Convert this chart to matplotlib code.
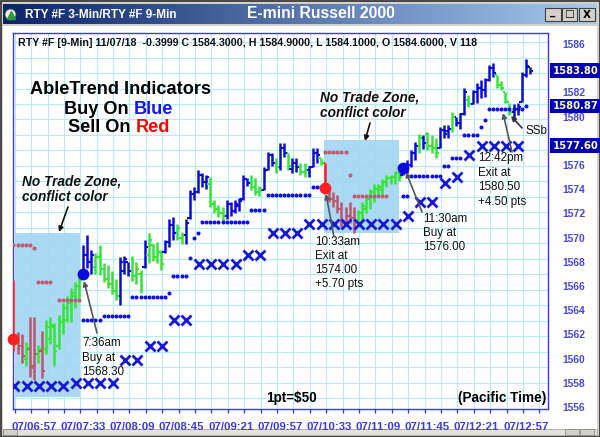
import numpy as np
import matplotlib
matplotlib.use("Agg")
import matplotlib.pyplot as plt
from matplotlib.patches import Rectangle, Circle
from matplotlib.colors import LinearSegmentedColormap
from matplotlib.transforms import blended_transform_factory

plt.rcParams['font.family'] = ['Liberation Sans', 'DejaVu Sans']

# ---------------- data ----------------
time_labels = ['07/06:57', '07/07:33', '07/08:09', '07/08:45', '07/09:21', '07/09:57',
               '07/10:33', '07/11:09', '07/11:45', '07/12:21', '07/12:57']
label_bar = [5, 17, 29, 41, 53, 65, 77, 89, 101, 113, 125]

bar_high = [1566.5, 1562.2, 1562.0, 1561.4, 1563.4, 1563.4, 1561.1, 1562.3, 1563.2, 1563.4,
            1562.9, 1563.6, 1564.6, 1565.2, 1565.8, 1566.3, 1566.8, 1569.4, 1570.2, 1569.0,
            1568.7, 1569.4, 1567.9, 1567.7, 1567.2, 1566.6, 1568.4, 1568.5, 1568.0, 1568.5,
            1568.0, 1567.3, 1569.8, 1570.4, 1569.5, 1569.6, 1569.0, 1569.8, 1571.5, 1571.7,
            1571.1, 1570.5, 1571.5, 1573.9, 1574.2, 1575.6, 1575.3, 1575.2, 1575.0, 1573.1,
            1572.7, 1572.5, 1573.1, 1572.9, 1573.1, 1573.3, 1575.2, 1574.9, 1575.2, 1574.9,
            1574.3, 1575.8, 1577.1, 1577.0, 1576.6, 1577.8, 1577.8, 1577.0, 1576.6, 1576.6,
            1576.2, 1576.2, 1575.9, 1577.4, 1577.4, 1576.6, 1576.2, 1574.3, 1573.8, 1573.5,
            1572.9, 1572.5, 1572.9, 1572.5, 1572.3, 1572.9, 1573.4, 1574.0, 1574.4, 1574.4,
            1574.8, 1575.2, 1575.2, 1575.5, 1575.4, 1576.2, 1576.4, 1577.2, 1577.9, 1578.6,
            1578.5, 1578.7, 1578.5, 1578.2, 1579.1, 1579.3, 1579.3, 1580.4, 1580.0, 1580.3,
            1582.4, 1581.8, 1582.2, 1582.8, 1583.0, 1583.2, 1584.3, 1584.4, 1583.4, 1582.9,
            1582.0, 1581.1, 1581.0, 1581.1, 1583.7, 1584.8, 1584.1]
bar_low = [1560.6, 1560.4, 1559.6, 1559.4, 1558.5, 1558.2, 1559.6, 1558.4, 1560.4, 1561.2,
           1559.4, 1560.8, 1562.0, 1563.0, 1563.0, 1564.2, 1565.0, 1566.9, 1567.5, 1567.0,
           1567.0, 1566.9, 1566.3, 1565.8, 1565.3, 1564.8, 1564.4, 1567.0, 1566.8, 1566.4,
           1566.2, 1565.4, 1567.5, 1567.9, 1568.1, 1567.9, 1567.3, 1568.7, 1569.2, 1569.8,
           1569.8, 1569.5, 1569.5, 1571.5, 1573.1, 1573.7, 1574.2, 1574.0, 1572.5, 1572.0,
           1571.7, 1571.4, 1571.5, 1571.8, 1572.0, 1572.2, 1573.1, 1574.3, 1573.9, 1573.5,
           1573.4, 1573.9, 1575.6, 1575.9, 1575.3, 1575.6, 1576.7, 1575.6, 1575.3, 1575.4,
           1575.2, 1575.0, 1575.0, 1575.8, 1576.2, 1576.0, 1573.8, 1572.9, 1572.5, 1572.0,
           1570.9, 1571.0, 1571.2, 1570.4, 1571.3, 1571.4, 1572.0, 1572.4, 1572.9, 1573.5,
           1573.4, 1574.2, 1574.4, 1574.4, 1574.7, 1575.2, 1575.3, 1575.8, 1576.4, 1577.0,
           1577.3, 1577.2, 1577.0, 1576.6, 1577.4, 1578.2, 1578.2, 1578.7, 1579.2, 1579.0,
           1580.1, 1580.8, 1581.0, 1581.1, 1581.5, 1581.6, 1582.9, 1583.3, 1582.4, 1582.2,
           1581.1, 1580.1, 1579.9, 1580.1, 1581.2, 1583.3, 1583.5]
bar_open = [1563.0, 1561.8, 1561.0, 1560.0, 1560.8, 1559.4, 1560.4, 1560.6, 1560.8, 1561.6,
            1562.6, 1561.0, 1563.0, 1563.2, 1564.6, 1565.2, 1566.0, 1567.0, 1568.6, 1568.0,
            1567.6, 1568.4, 1567.4, 1566.6, 1566.2, 1565.6, 1565.2, 1567.2, 1568.0, 1567.2,
            1566.8, 1567.0, 1567.6, 1568.6, 1569.4, 1568.4, 1568.8, 1568.8, 1569.6, 1571.0,
            1570.4, 1570.0, 1570.2, 1571.6, 1573.6, 1573.8, 1575.2, 1574.6, 1574.4, 1572.8,
            1572.4, 1572.0, 1571.8, 1572.8, 1572.2, 1572.6, 1573.2, 1574.8, 1574.5, 1574.2,
            1573.8, 1573.9, 1575.6, 1576.8, 1576.2, 1575.8, 1577.4, 1577.0, 1575.7, 1576.2,
            1575.8, 1575.4, 1575.6, 1575.8, 1577.0, 1576.6, 1576.2, 1574.0, 1573.2, 1573.0,
            1572.4, 1571.2, 1571.8, 1571.6, 1571.4, 1572.0, 1572.4, 1573.2, 1573.8, 1574.0,
            1573.9, 1574.6, 1574.9, 1575.0, 1575.3, 1575.2, 1575.8, 1576.0, 1577.0, 1577.6,
            1578.2, 1578.6, 1577.6, 1577.4, 1577.4, 1578.9, 1578.8, 1579.0, 1580.0, 1579.5,
            1580.2, 1581.4, 1581.0, 1582.0, 1582.4, 1582.2, 1583.0, 1584.0, 1583.4, 1582.6,
            1582.0, 1581.2, 1580.4, 1580.6, 1581.2, 1583.4, 1584.1]
bar_close = [1561.6, 1560.8, 1560.2, 1560.9, 1559.2, 1560.4, 1560.8, 1559.0, 1562.6, 1562.8,
             1560.6, 1563.2, 1564.2, 1564.8, 1565.4, 1566.0, 1566.5, 1568.6, 1568.0, 1568.6,
             1568.4, 1567.4, 1566.6, 1566.2, 1565.6, 1565.2, 1568.0, 1568.2, 1567.2, 1566.8,
             1567.4, 1566.0, 1569.2, 1569.8, 1568.4, 1568.8, 1567.8, 1569.6, 1571.0, 1570.4,
             1570.8, 1570.2, 1571.2, 1573.6, 1573.8, 1575.2, 1574.6, 1575.0, 1572.8, 1572.4,
             1572.0, 1571.8, 1572.8, 1572.2, 1572.8, 1573.0, 1574.8, 1574.5, 1574.2, 1573.8,
             1574.0, 1575.5, 1576.8, 1576.2, 1575.8, 1577.4, 1577.0, 1575.9, 1576.2, 1575.8,
             1575.4, 1575.6, 1575.8, 1577.0, 1576.8, 1576.2, 1574.1, 1573.2, 1573.0, 1572.4,
             1571.2, 1571.8, 1571.6, 1570.8, 1572.0, 1572.6, 1573.2, 1573.8, 1574.0, 1574.2,
             1574.6, 1574.9, 1575.0, 1575.3, 1575.0, 1575.8, 1576.0, 1577.0, 1577.6, 1578.2,
             1577.8, 1577.6, 1577.4, 1577.0, 1578.9, 1578.6, 1579.0, 1580.0, 1579.5, 1580.2,
             1582.0, 1581.0, 1582.0, 1582.4, 1582.2, 1583.0, 1584.0, 1583.6, 1582.6, 1582.4,
             1581.2, 1580.4, 1580.6, 1580.8, 1583.4, 1584.2, 1583.8]
# b = buy (blue), g = green, r = sell (red), m = conflict colour
bar_state = ("rmmgmmgm" "ggggggggg" "bbb" "gggggg" "bbb" "ggg" "b" "gggg" "bbb" "gg"
             "bbbbbb" "gggg" "bbbbbb" "ggg" "bbb" "g" "bb" "g" "bb" "gg" "bbb" "g"
             "r" "mmmmmmm" "ggggggggggg" "bbbb" "g" "b" "ggg" "bbb" "g" "bbb" "g"
             "bbbbbb" "gggg" "bbbbb")

stop_start = [0, 5, 6, 11, 17, 22, 29, 38, 39, 43, 44, 45, 46, 58, 62, 73,
              76, 82, 83, 95, 97, 105, 107, 110, 114, 115, 116, 125]
stop_end = [4, 5, 9, 16, 21, 28, 37, 38, 42, 43, 44, 45, 57, 61, 72, 75,
            81, 82, 91, 96, 104, 106, 109, 113, 114, 115, 124, 125]
stop_level = [1569.4, 1569.1, 1566.3, 1564.8, 1563.2, 1563.5, 1565.1, 1565.4, 1566.8, 1568.3,
              1570.0, 1570.4, 1571.3, 1572.3, 1573.5, 1574.2, 1577.1, 1575.2, 1573.4, 1573.4,
              1575.1, 1575.9, 1576.6, 1578.5, 1579.1, 1579.7, 1580.6, 1580.9]
stop_state = "mmmm" "bbbbbbbbbbbb" "mmm" "bbbbbbbbb"

xmark_level = [1557.7, 1557.7, 1557.7, 1557.7, 1557.7, 1557.95, 1557.95, 1557.95, 1557.95,
               1559.9, 1559.9, 1561.0, 1561.0, 1563.2, 1563.2, 1567.8, 1567.8, 1567.8, 1567.8,
               1568.6, 1568.6, 1570.4, 1570.4, 1570.4, 1571.1, 1571.1, 1571.1, 1571.1, 1571.1,
               1571.1, 1571.1, 1571.1, 1571.8, 1572.9, 1572.9, 1574.5, 1575.0, 1576.8,
               1577.55, 1577.55, 1577.55, 1577.55]

signal_bar = [0, 17, 76, 95]
signal_price = [1561.6, 1567.0, 1574.1, 1575.75]
signal_state = ['r', 'b', 'r', 'b']

zone_start = [0.4, 75.8]
zone_end = [16.2, 94.1]
zone_top = [1570.4, 1578.1]
zone_bottom = [1556.8, 1570.35]

price_boxes = [1583.80, 1580.87, 1577.60]
y_ticks = [v for v in range(1556, 1587, 2) if min(abs(v - b) for b in price_boxes) > 0.6]

# ---------------- figure ----------------
W, H, DPI = 600, 437, 100
fig = plt.figure(figsize=(W / DPI, H / DPI), dpi=DPI)
renderer = fig.canvas.get_renderer()


def fit(t, width):
    bb = t.get_window_extent(renderer=renderer)
    t.set_fontsize(t.get_fontsize() * width / bb.width)
    return t


# window chrome
bg = fig.add_axes([0, 0, 1, 1], zorder=0)
bg.axis('off')
bg.add_patch(Rectangle((0, 0), W, H, fc='#d4d0c8', ec='none'))
cmap = LinearSegmentedColormap.from_list('tb', ['#0a246a', '#a6caf0'])
bg.imshow(np.linspace(0, 1, 256)[None, :], cmap=cmap, extent=(3, 597, 24, 4),
          aspect='auto', zorder=1)
bg.add_patch(Rectangle((3, 26), 594, 403, fc='white', ec='none', zorder=1))
bg.add_patch(Rectangle((3, 429), 594, 6, fc='#e4e1da', ec='#a0a0a0', lw=0.5, zorder=1))
bg.add_patch(Rectangle((3, 429), 14, 6, fc='#d4d0c8', ec='#808080', lw=0.5, zorder=2))
bg.add_patch(Rectangle((565, 429), 14, 6, fc='#d4d0c8', ec='#808080', lw=0.5, zorder=2))
bg.add_patch(Rectangle((580, 429), 14, 6, fc='#d4d0c8', ec='#808080', lw=0.5, zorder=2))
bg.add_patch(Rectangle((0.5, 0.5), W - 1, H - 1, fc='none', ec='#303030', lw=1.2, zorder=3))
for bx in (545, 561.5, 579):
    bg.add_patch(Rectangle((bx, 7.5), 15.5, 13, fc='#d4d0c8', ec='#404040', lw=0.8, zorder=3))
bg.add_patch(Circle((10.5, 14.5), 5.5, fc='#e8efe8', ec='#3a5a3a', lw=0.6, zorder=3))
bg.plot([10.5], [15.2], marker='^', ms=5.5, color='#2f9a3a', zorder=4)
bg.set_xlim(0, W)
bg.set_ylim(H, 0)

# main chart
ax = fig.add_axes([12.5 / W, (H - 409) / H, (548 - 12.5) / W, (409 - 32.5) / H], zorder=1)
ax.set_facecolor('white')
n = len(bar_high)
x = np.arange(n)
col_map = {'b': '#0c0cd4', 'g': '#36e436', 'r': '#ff1c1c', 'm': '#bb566c'}
cols = [col_map[s] for s in bar_state]

ax.set_xlim(-0.24, 130.4)
ax.set_ylim(1555.83, 1586.95)

for gx in np.arange(0.3, 131, 4):
    ax.axvline(gx, color='#b4ecf5', lw=0.8, zorder=0.5)
for gy in np.arange(1556.72, 1587, 1.28):
    ax.axhline(gy, color='#b4ecf5', lw=0.8, zorder=0.5)

for zs, ze, zt, zb in zip(zone_start, zone_end, zone_top, zone_bottom):
    ax.add_patch(Rectangle((zs, zb), ze - zs, zt - zb, fc='#a2d6f2', ec='none',
                           alpha=0.92, zorder=1))

ax.vlines(x, bar_low, bar_high, colors=cols, lw=1.8, zorder=3)
ax.hlines(bar_open, x - 0.7, x, colors=cols, lw=1.5, zorder=3)
ax.hlines(bar_close, x, x + 0.7, colors=cols, lw=1.5, zorder=3)

dot_col = {'b': '#1010e0', 'm': '#c05a70'}
for s, e, lvl, st in zip(stop_start, stop_end, stop_level, stop_state):
    xs = np.arange(s, e + 1)
    ax.plot(xs, np.full(len(xs), lvl), 'o', ms=2.9, mec='none', color=dot_col[st], zorder=4)

xm = np.arange(len(xmark_level)) * 3 + 0.2
ax.plot(xm, xmark_level, 'x', ms=6.5, mew=2.0, color='#1818d4', ls='none', zorder=4)

for sb, sp, st in zip(signal_bar, signal_price, signal_state):
    ax.plot([sb], [sp], 'o', ms=8.5, mec='none',
            color='#ff2020' if st == 'r' else '#0a0ae0', zorder=5, clip_on=False)

ax.set_xticks(label_bar)
ax.set_xticklabels(time_labels)
ax.set_xticks(np.arange(0.3, 131, 4), minor=True)
ax.tick_params(axis='x', which='major', length=0, pad=9.5, labelcolor='#3c3cd8')
ax.tick_params(axis='x', which='minor', length=3, width=1, color='#3c3cd0', direction='out')
ax.yaxis.tick_right()
ax.set_yticks(y_ticks)
ax.set_yticklabels([str(v) for v in y_ticks])
ax.tick_params(axis='y', length=0, pad=10.5, labelcolor='#4646dc')
for lb in ax.get_xticklabels():
    lb.set_fontweight('bold')
    fit(lb, 45)
for lb in ax.get_yticklabels():
    lb.set_fontweight('bold')
    fit(lb, 23)
for sp in ax.spines.values():
    sp.set_color('#3c3cd0')
    sp.set_linewidth(1.0)

blend = blended_transform_factory(ax.transAxes, ax.transData)
for v in price_boxes:
    t = ax.text(1.0085, v, f"{v:.2f}", transform=blend, va='center', ha='left',
                family='DejaVu Sans', fontweight='bold', color='#ffffb0', clip_on=False,
                zorder=10, bbox=dict(boxstyle='square,pad=0.22', fc='#0000b0', ec='none'))
    fit(t, 46)

# overlay (pixel coordinates, y down)
ov = fig.add_axes([0, 0, 1, 1], zorder=3)
ov.set_xlim(0, W)
ov.set_ylim(H, 0)
ov.axis('off')
ov.patch.set_visible(False)

fit(ov.text(25, 14.5, 'RTY #F 3-Min/RTY #F 9-Min', color='white', fontweight='bold',
            va='center', ha='left'), 152)
fit(ov.text(320.5, 14, 'E-mini Russell 2000', color='white', fontweight='bold',
            va='center', ha='center'), 148)
for bx, g in ((552.8, '_'), (569.2, '\u25a1'), (586.8, 'X')):
    ov.text(bx, 14.5 if g != '_' else 12, g, fontsize=7.5, fontweight='bold',
            family='DejaVu Sans', ha='center', va='center', color='black')

fit(ov.text(18, 43.5, 'RTY #F [9-Min] 11/07/18  -0.3999 C 1584.3000, H 1584.9000, '
            'L 1584.1000, O 1584.6000, V 118', fontweight='bold', va='center', ha='left',
            color='#101010'), 459)

t_title = fit(ov.text(120, 90, 'AbleTrend Indicators', fontweight='bold', ha='center',
                      va='center', color='black'), 180)
fs_big = t_title.get_fontsize()


def two_color(cx, cy, first, second, c2):
    full = ov.text(0, 0, first + second, fontsize=fs_big, fontweight='bold')
    wf = full.get_window_extent(renderer=renderer).width
    full.remove()
    x0 = cx - wf / 2
    ov.text(x0, cy, first.rstrip(), fontsize=fs_big, fontweight='bold', ha='left',
            va='center', color='black')
    ov.text(x0 + wf, cy, second, fontsize=fs_big, fontweight='bold', ha='right',
            va='center', color=c2)


two_color(119, 109, 'Buy On ', 'Blue', '#1414f0')
two_color(119, 128, 'Sell On ', 'Red', '#ff0000')

for zx, zy in ((22, 181), (320, 97)):
    t = fit(ov.text(zx, zy, 'No Trade Zone,', fontweight='bold', style='italic',
                    ha='left', va='center', color='#111111'), 99)
    ov.text(zx, zy + 16, 'conflict color', fontweight='bold', style='italic',
            ha='left', va='center', color='#111111', fontsize=t.get_fontsize())

fit(ov.text(291, 398, '1pt=$50', fontweight='bold', ha='center', va='center'), 51)
fit(ov.text(502, 398, '(Pacific Time)', fontweight='bold', ha='center', va='center'), 88)

ref = fit(ov.text(0, 0, '1568.30'), 42)
fs_note = ref.get_fontsize()
ref.remove()
notes = [(82, 343, 14.5, ['7:36am', 'Buy at', '1568.30']),
         (315, 242, 14.0, ['10:33am', 'Exit at', '1574.00', '+5.70 pts']),
         (423, 219, 14.0, ['11:30am', 'Buy at', '1576.00']),
         (478, 158, 14.5, ['12:42pm', 'Exit at', '1580.50', '+4.50 pts']),
         (525, 131, 14.0, ['SSb'])]
for nx, ny, dy, lines in notes:
    for k, s in enumerate(lines):
        ov.text(nx, ny + k * dy, s, fontsize=fs_note, ha='left', va='center', color='#111111')

arrows = [((97, 333), (84, 281), '#555555'),
          ((334, 237), (326, 194), '#555555'),
          ((422, 212), (406, 172), '#555555'),
          ((512, 152), (503, 113), '#555555'),
          ((522, 128), (511, 116), '#333333'),
          ((68, 207), (59, 232), '#111111'),
          ((370, 123), (365, 141), '#111111')]
for tail, head, c in arrows:
    ov.annotate('', xy=head, xytext=tail,
                arrowprops=dict(arrowstyle='-|>', color=c, lw=1.2, mutation_scale=7,
                                shrinkA=0, shrinkB=0))

fig.savefig('out.png', dpi=DPI)
